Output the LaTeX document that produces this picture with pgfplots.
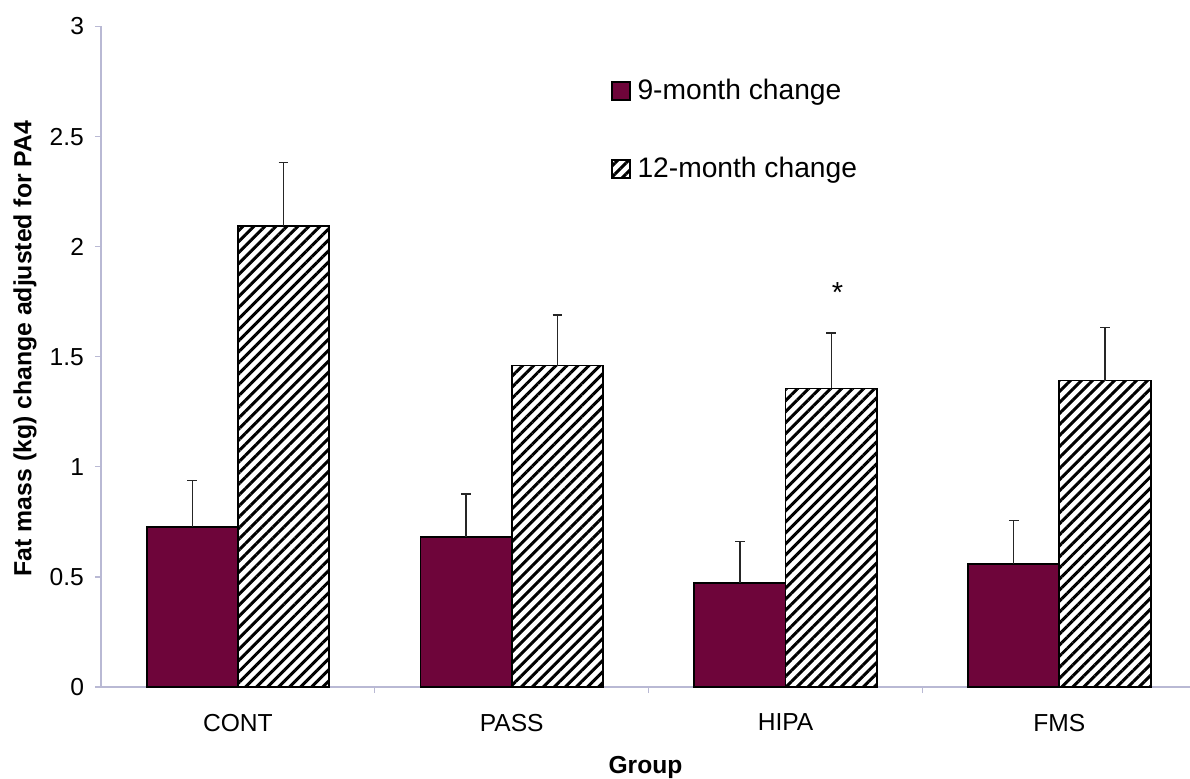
\documentclass[border=0pt]{standalone}
\usepackage{fontspec}
\setmainfont{Liberation Sans}
\usepackage{pgfplots}
\pgfplotsset{compat=1.18}
\usetikzlibrary{patterns.meta,calc}
\definecolor{maroon}{RGB}{110,5,58}
\definecolor{axisgray}{RGB}{185,185,212}
\begin{document}
\begin{tikzpicture}
\begin{axis}[
  scale only axis,
  width=544.5pt, height=330.25pt,
  xmin=-0.5, xmax=3.477,
  ymin=0, ymax=3,
  ybar=0pt,
  bar width=0.3333,
  axis x line*=bottom, axis y line*=left,
  axis line style={draw=axisgray, line width=0.6pt},
  tick align=outside,
  major tick length=3pt,
  tick style={draw=axisgray, line width=0.6pt},
  /pgf/number format/assume math mode=true,
  ytick={0,0.5,1,1.5,2,2.5,3},
  yticklabels={0,0.5,1,1.5,2,2.5,3},
  y tick label style={xshift=-2pt},
  xtick={0.5,1.5,2.5},
  xticklabels={},
  extra x ticks={0,1,2,3},
  extra x tick labels={CONT,PASS,HIPA,FMS},
  extra x tick style={major tick length=0pt, tick label style={yshift=-10pt}},
  tick label style={font=\fontsize{12.3}{14}\selectfont},
  xlabel={Group},
  ylabel={Fat mass (kg) change adjusted for PA4},
  xlabel style={font=\bfseries\fontsize{12.3}{14}\selectfont, at={(rel axis cs:0.5,-0.1317)}, anchor=base},
  ylabel style={font=\bfseries\fontsize{12.4}{14}\selectfont, at={(rel axis cs:-0.0640,0.5125)}, anchor=base},
  legend style={draw=none, fill=none, at={(rel axis cs:0.468,0.9205)}, anchor=north west,
    font=\fontsize{14.1}{17}\selectfont, row sep=27.2pt, inner sep=0pt,
    nodes={inner sep=0pt},
    /tikz/every odd column/.append style={column sep=3.2pt}},
  legend cell align=left,
  legend image code/.code={\draw[#1] (0pt,-4.575pt) rectangle (9.15pt,4.575pt);},
]
\addplot[fill=maroon, draw=black, line width=0.9pt,
  error bars/.cd, y dir=plus, y explicit,
  error bar style={line width=0.7pt, draw=black!85},
  error mark options={rotate=90, line width=0.7pt, mark size=2.4pt, draw=black!85}]
  coordinates {(0,0.726) +- (0,0.211) (1,0.682) +- (0,0.195) (2,0.472) +- (0,0.19) (3,0.56) +- (0,0.196)};
\addplot[draw=black, line width=0.9pt,
  pattern={Lines[angle=45,distance=3.9pt,line width=1.5pt]}, pattern color=black,
  error bars/.cd, y dir=plus, y explicit,
  error bar style={line width=0.7pt, draw=black!85},
  error mark options={rotate=90, line width=0.7pt, mark size=2.4pt, draw=black!85}]
  coordinates {(0,2.094) +- (0,0.289) (1,1.46) +- (0,0.229) (2,1.356) +- (0,0.251) (3,1.392) +- (0,0.241)};
\legend{9-month change,12-month change}
\node[anchor=base, font=\fontsize{14.5}{16}\selectfont] at (axis cs:2.19,1.745) {*};
\coordinate (SW) at (rel axis cs:0,0);
\coordinate (NE) at (rel axis cs:1,1);
\end{axis}
\pgfresetboundingbox
\path[use as bounding box] ($(SW)+(-50.5pt,-45.5pt)$) rectangle ($(NE)+(0pt,13.25pt)$);
\end{tikzpicture}
\end{document}
